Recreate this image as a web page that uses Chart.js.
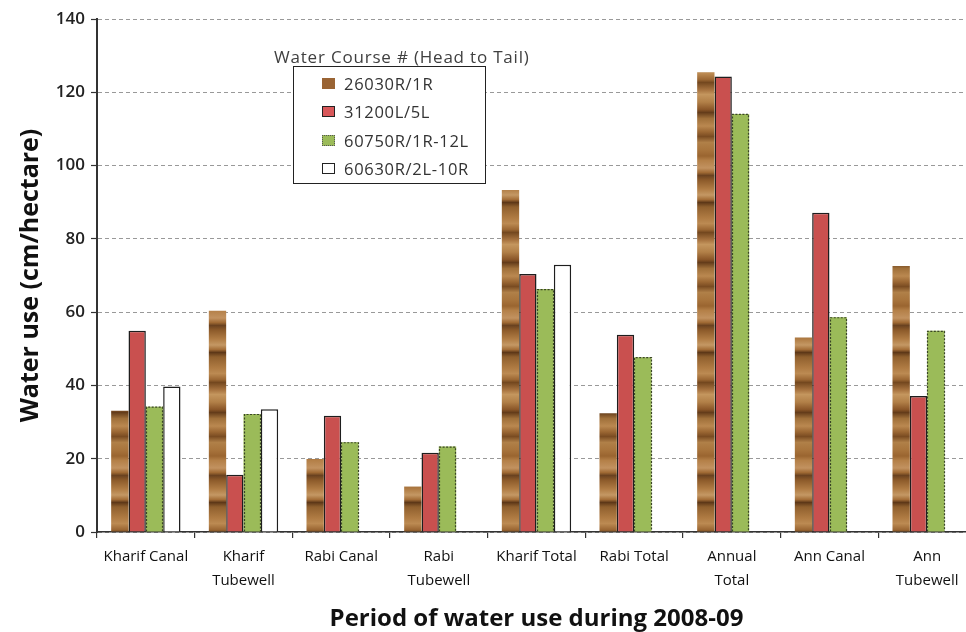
<!DOCTYPE html>
<html>
<head>
<meta charset="utf-8">
<script src="https://cdn.jsdelivr.net/npm/chart.js@4.4.1/dist/chart.umd.min.js"></script>
<style>
  html, body { margin: 0; padding: 0; overflow: hidden; background: #fff; }
  #wrap { position: relative; width: 976px; height: 632px; }
  #legendTitle {
    position: absolute; left: 274px; top: 45px;
    font: 17px "Open Sans", sans-serif; letter-spacing: 0.8px; color: #404040; white-space: nowrap;
  }
  #legendBox {
    position: absolute; left: 293px; top: 66px; width: 191px; height: 116px;
    border: 1.5px solid #222; background: #fff;
    font: 16.5px "Open Sans", sans-serif; letter-spacing: 0.7px; color: #333;
  }
  #legendBox .row { position: absolute; left: 28px; height: 22px; display: flex; align-items: center; white-space: nowrap; }
  #legendBox .sw { width: 13px; height: 11px; margin-right: 9px; box-sizing: border-box; }
</style>
</head>
<body>
<div id="wrap">
  <canvas id="waterChart"></canvas>
  <div id="legendTitle">Water Course # (Head to Tail)</div>
  <div id="legendBox"></div>
</div>
<script>
// 期間（カテゴリ）
const categories = [
  'Kharif Canal', ['Kharif', 'Tubewell'], 'Rabi Canal', ['Rabi', 'Tubewell'],
  'Kharif Total', 'Rabi Total', ['Annual', 'Total'], 'Ann Canal', ['Ann', 'Tubewell']
];

// 水路ごとの値 (cm/hectare)
const wc26030 = [33.1, 60.4, 19.9, 12.4, 93.3, 32.4, 125.5, 53.1, 72.6];
const wc31200 = [54.9, 15.6, 31.7, 21.6, 70.4, 53.8, 124.3, 87.1, 37.1];
const wc60750 = [34.2, 32.2, 24.5, 23.3, 66.3, 47.7, 114.1, 58.6, 54.9];
const wc60630 = [39.7, 33.5, null, null, 72.9, null, null, null, null];

const seriesNames = ['26030R/1R', '31200L/5L', '60750R/1R-12L', '60630R/2L-10R'];

// y軸の目盛り
const yTicks = [0, 20, 40, 60, 80, 100, 120, 140];

const canvas = document.getElementById('waterChart');
const ctx = canvas.getContext('2d');

// 木目っぽいパターン（ぼかした茶色の横縞）
function makeWoodPattern() {
  // [位置 0..1, 色]
  const stops = [
    [0.00, '#a8743c'], [0.04, '#9a6530'], [0.07, '#b48048'], [0.12, '#c29260'],
    [0.15, '#a06a34'], [0.17, '#6a4220'], [0.20, '#8c5a2a'], [0.26, '#b07c44'],
    [0.30, '#c49864'], [0.33, '#a46e38'], [0.35, '#5e3818'], [0.38, '#90602e'],
    [0.45, '#ae7a42'], [0.49, '#bc8a52'], [0.53, '#9c6834'], [0.55, '#74481f'],
    [0.60, '#a87440'], [0.63, '#c4965e'], [0.68, '#b28048'], [0.73, '#8a5628'],
    [0.75, '#643c1a'], [0.79, '#a0703a'], [0.84, '#ba8850'], [0.88, '#9a6632'],
    [0.91, '#7a4c22'], [0.95, '#b08048'], [1.00, '#a8743c']
  ];
  const c = document.createElement('canvas');
  c.width = 18;
  c.height = 150;
  const g = c.getContext('2d');
  const grad = g.createLinearGradient(0, 0, 0, c.height);
  stops.forEach(([p, col]) => grad.addColorStop(p, col));
  g.fillStyle = grad;
  g.fillRect(0, 0, c.width, c.height);
  return ctx.createPattern(c, 'repeat');
}
const wood = makeWoodPattern();

// 緑の棒だけ点線の枠
const dashedOutline = {
  id: 'dashedOutline',
  afterDatasetsDraw(chart) {
    const c = chart.ctx;
    chart.data.datasets.forEach((ds, i) => {
      if (!ds.dashBorder) return;
      const meta = chart.getDatasetMeta(i);
      c.save();
      c.strokeStyle = ds.dashBorder;
      c.lineWidth = 1.2;
      c.setLineDash([2, 1.5]);
      meta.data.forEach((bar, j) => {
        if (ds.data[j] == null) return;
        const { x, y, base, width } = bar.getProps(['x', 'y', 'base', 'width'], true);
        const l = Math.round(x - width / 2) + 0.5, r = Math.round(x + width / 2) - 0.5;
        c.beginPath();
        c.moveTo(l, base);
        c.lineTo(l, y + 0.5);
        c.lineTo(r, y + 0.5);
        c.lineTo(r, base);
        c.stroke();
      });
      c.restore();
    });
  }
};

const datasets = [
  { label: seriesNames[0], data: wc26030, backgroundColor: wood, borderWidth: 0, swatch: '#9a6434', swatchBorder: '#9a6434' },
  { label: seriesNames[1], data: wc31200, backgroundColor: '#c9504f', borderColor: '#1e1e1e', borderWidth: 1.5, swatch: '#d9585a', swatchBorder: '#222' },
  { label: seriesNames[2], data: wc60750, backgroundColor: '#9bbb59', borderWidth: 0, dashBorder: '#3a4526', swatch: '#9bbb59', swatchBorder: '#555' },
  { label: seriesNames[3], data: wc60630, backgroundColor: '#ffffff', borderColor: '#1e1e1e', borderWidth: 1.5, swatch: '#fff', swatchBorder: '#222' }
];

const chart = new Chart(ctx, {
  type: 'bar',
  data: { labels: categories, datasets: datasets },
  options: {
    responsive: true,
    maintainAspectRatio: false,
    animation: false,
    layout: { padding: { top: 19, right: 0, bottom: 0, left: 0 } },
    datasets: { bar: { categoryPercentage: 0.71, barPercentage: 1.0 } },
    plugins: { legend: { display: false }, tooltip: { enabled: false } },
    scales: {
      x: {
        offset: true,
        grid: { display: true, drawOnChartArea: false, offset: true, color: '#333', tickLength: 6, lineWidth: 1.2 },
        border: { display: true, color: '#333', width: 1.5 },
        ticks: { color: '#111', padding: 7, font: { family: '"Open Sans", sans-serif', size: 15, lineHeight: 1.6 } },
        title: {
          display: true, text: 'Period of water use during 2008-09', color: '#111',
          font: { family: '"Open Sans", sans-serif', size: 24, weight: 'bold' },
          padding: { top: 0, bottom: -2 }
        },
        afterFit(scale) { scale.height = 100; }
      },
      y: {
        min: 0, max: 140,
        afterBuildTicks(scale) { scale.ticks = yTicks.map(v => ({ value: v })); },
        grid: { color: '#999', lineWidth: 1, tickLength: 6, tickColor: '#333', tickBorderDash: [], tickWidth: 1.2 },
        border: { display: true, color: '#333', width: 2, dash: [4, 3] },
        ticks: { color: '#222', padding: 6, font: { family: '"Open Sans", sans-serif', size: 17, weight: '600' } },
        title: {
          display: true, text: 'Water use (cm/hectare)', color: '#111',
          font: { family: '"Open Sans", sans-serif', size: 25, weight: 'bold' },
          padding: { top: 16, bottom: 0 }
        },
        afterFit(scale) { scale.width = 97; }
      }
    }
  },
  plugins: [dashedOutline]
});

// 凡例ボックス
const box = document.getElementById('legendBox');
const rowTops = [5, 33, 62, 90];
chart.data.datasets.forEach((ds, i) => {
  const row = document.createElement('div');
  row.className = 'row';
  row.style.top = rowTops[i] + 'px';
  const sw = document.createElement('span');
  sw.className = 'sw';
  sw.style.background = ds.swatch;
  sw.style.border = '1.5px ' + (ds.dashBorder ? 'dotted ' : 'solid ') + ds.swatchBorder;
  row.appendChild(sw);
  row.appendChild(document.createTextNode(ds.label));
  box.appendChild(row);
});
</script>
</body>
</html>
